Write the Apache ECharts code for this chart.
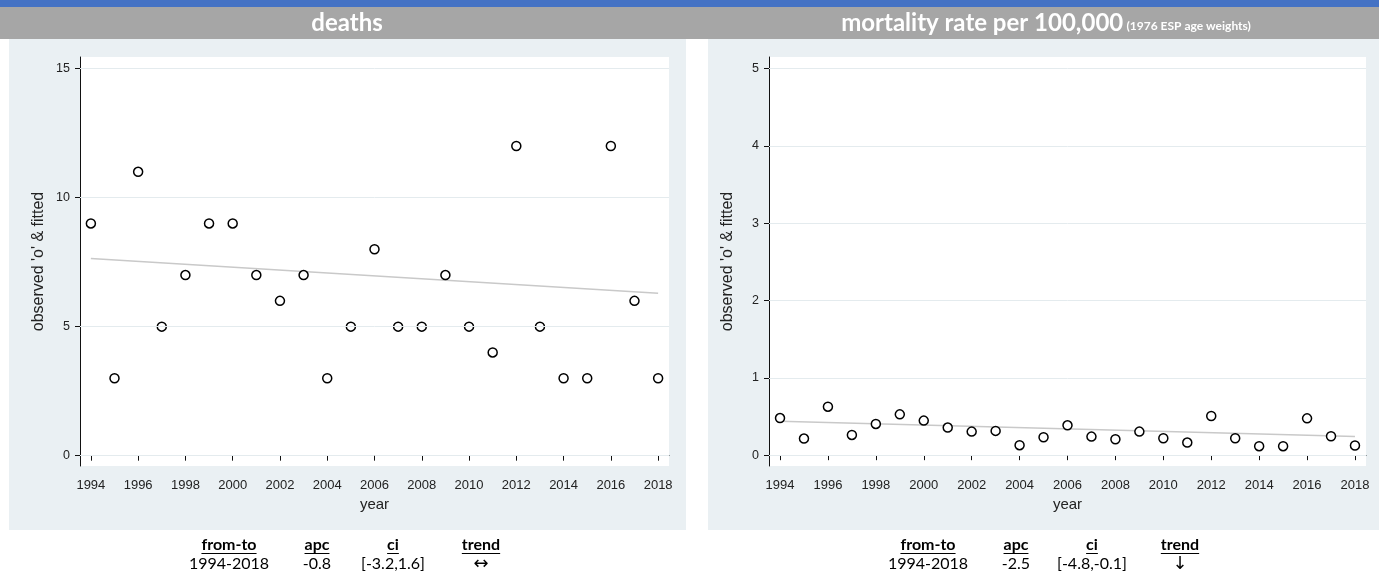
<!DOCTYPE html>
<html>
<head>
<meta charset="utf-8">
<script src="https://cdn.jsdelivr.net/npm/echarts@6/dist/echarts.min.js"></script>
<style>
  html, body { margin: 0; padding: 0; background: #fff; }
  #chart { width: 1379px; height: 574px; }
</style>
</head>
<body>
<div id="chart"></div>
<script>
  var years = [1994, 1995, 1996, 1997, 1998, 1999, 2000, 2001, 2002, 2003, 2004, 2005, 2006,
    2007, 2008, 2009, 2010, 2011, 2012, 2013, 2014, 2015, 2016, 2017, 2018]
  var deaths = [9, 3, 11, 5, 7, 9, 9, 7, 6, 7, 3, 5, 8, 5, 5, 7, 5, 4, 12, 5, 3, 3, 12, 6, 3]
  var rates = [0.48, 0.215, 0.627, 0.262, 0.404, 0.528, 0.447, 0.357, 0.305, 0.314, 0.129, 0.232, 0.386,
    0.24, 0.206, 0.305, 0.219, 0.163, 0.507, 0.219, 0.116, 0.116, 0.476, 0.245, 0.125]
  // fitted trend, end points only
  var fitYears = [1994, 2018]
  var deathsFit = [7.64, 6.29]
  var ratesFit = [0.438, 0.24]
  var yearTicks = [1994, 1996, 1998, 2000, 2002, 2004, 2006, 2008, 2010, 2012, 2014, 2016, 2018]
  var deathsTicks = [0, 5, 10, 15]
  var ratesTicks = [0, 1, 2, 3, 4, 5]
  var deathsTitle = 'deaths'
  var ratesTitle = 'mortality rate per 100,000'
  var ratesNote = '(1976 ESP age weights)'
  var tableHead = ['from-to', 'apc', 'ci', 'trend']
  var deathsRow = ['1994-2018', '-0.8', '[-3.2,1.6]', '↔']
  var ratesRow = ['1994-2018', '-2.5', '[-4.8,-0.1]', '↓']

  var panelBg = '#eaf0f3'
  var gridColor = '#e4ebee'
  var tableFont = 'Lato, "Open Sans", sans-serif'
  var axisFont = 'Liberation Sans'

  function pairs (xs, ys) {
    return xs.map(function (x, i) { return [x, ys[i]] })
  }

  function textWidth (txt, font) {
    var ctx = document.createElement('canvas').getContext('2d')
    ctx.font = font
    return ctx.measureText(txt).width
  }

  var myChart = echarts.init(document.getElementById('chart'))

  var grids = [
    {left: 80, top: 57, width: 589, height: 409, show: true, backgroundColor: '#fff', borderWidth: 0},
    {left: 769, top: 57, width: 597, height: 409, show: true, backgroundColor: '#fff', borderWidth: 0}
  ]

  function xAxisFor (idx) {
    return {
      gridIndex: idx,
      type: 'value',
      min: 1993.54,
      max: 2018.46,
      name: 'year',
      nameLocation: 'middle',
      nameGap: 29,
      nameTextStyle: {color: '#222', fontSize: 15, fontFamily: axisFont},
      axisLine: {show: true, lineStyle: {color: '#111', width: 1}},
      axisTick: {show: true, length: 5, customValues: yearTicks, lineStyle: {color: '#111'}},
      axisLabel: {customValues: yearTicks, color: '#222', fontSize: 13, margin: 13, fontFamily: axisFont,
        formatter: function (v) { return String(v) }},
      splitLine: {show: false}
    }
  }

  function yAxisFor (idx, ticks, min, max) {
    return {
      gridIndex: idx,
      type: 'value',
      min: min,
      max: max,
      name: "observed 'o' & fitted",
      nameLocation: 'middle',
      nameGap: 33,
      nameTextStyle: {color: '#222', fontSize: 16, fontFamily: axisFont},
      axisLine: {show: true, lineStyle: {color: '#111', width: 1}},
      axisTick: {show: true, length: 5, customValues: ticks, lineStyle: {color: '#111'}},
      axisLabel: {customValues: ticks, color: '#222', fontSize: 12.5, margin: 10, fontFamily: axisFont},
      splitLine: {show: false}
    }
  }

  function seriesFor (idx, obs, fitVals, ticks) {
    return [{
      type: 'line',
      xAxisIndex: idx,
      yAxisIndex: idx,
      data: pairs(fitYears, fitVals),
      symbol: 'none',
      z: 1,
      lineStyle: {color: '#c9c9c9', width: 1.5},
      markLine: {
        silent: true,
        symbol: 'none',
        label: {show: false},
        lineStyle: {color: gridColor, width: 1, type: 'solid'},
        data: ticks.map(function (t) { return {yAxis: t} })
      }
    }, {
      type: 'scatter',
      xAxisIndex: idx,
      yAxisIndex: idx,
      data: pairs(years, obs),
      symbol: 'circle',
      symbolSize: 9,
      z: 3,
      itemStyle: {color: '#fff', borderColor: '#000', borderWidth: 1.5, opacity: 1}
    }]
  }

  // summary table under each panel
  function tableFor (panelLeft, row) {
    var cols = [220, 308, 384, 472]
    var out = []
    tableHead.forEach(function (h, i) {
      var cx = panelLeft + cols[i]
      var w = textWidth(h, 'bold 16px ' + tableFont)
      out.push({
        type: 'text', x: cx, y: 545, silent: true,
        style: {text: h, font: 'bold 16px ' + tableFont, fill: '#000', align: 'center', verticalAlign: 'middle'}
      })
      out.push({
        type: 'line', silent: true,
        shape: {x1: cx - w / 2, y1: 553.5, x2: cx + w / 2, y2: 553.5},
        style: {stroke: '#000', lineWidth: 1}
      })
      // last column is an arrow glyph, drawn a bit larger
      var f = i === 3 ? '18px "DejaVu Sans", sans-serif' : '16px ' + tableFont
      out.push({
        type: 'text', x: cx, y: 564, silent: true,
        style: {text: row[i], font: f, fill: '#000', align: 'center', verticalAlign: 'middle'}
      })
    })
    return out
  }

  var graphics = [
    {type: 'rect', z: -10, silent: true, shape: {x: 0, y: 0, width: 1379, height: 7}, style: {fill: '#4472c4'}},
    {type: 'rect', z: -10, silent: true, shape: {x: 0, y: 7, width: 1379, height: 32}, style: {fill: '#a6a6a6'}},
    {type: 'rect', z: -10, silent: true, shape: {x: 9, y: 39, width: 677, height: 491}, style: {fill: panelBg}},
    {type: 'rect', z: -10, silent: true, shape: {x: 708, y: 39, width: 671, height: 491}, style: {fill: panelBg}},
    {
      type: 'text', z: 10, silent: true, x: 347, y: 23,
      style: {text: deathsTitle, font: 'bold 24px ' + tableFont, fill: '#fff', align: 'center', verticalAlign: 'middle'}
    },
    {
      type: 'text', z: 10, silent: true, x: 1046, y: 23,
      style: {
        text: '{a|' + ratesTitle + '} {b|' + ratesNote + '}',
        align: 'center', verticalAlign: 'middle',
        rich: {
          a: {font: 'bold 24px ' + tableFont, fill: '#fff', color: '#fff'},
          b: {font: 'bold 12px ' + tableFont, fill: '#fff', color: '#fff', padding: [7, 0, 0, 0]}
        }
      }
    }
  ].concat(tableFor(9, deathsRow), tableFor(708, ratesRow))

  var option = {
    animation: false,
    backgroundColor: '#fff',
    grid: grids,
    xAxis: [xAxisFor(0), xAxisFor(1)],
    yAxis: [yAxisFor(0, deathsTicks, -0.4, 15.45), yAxisFor(1, ratesTicks, -0.14, 5.15)],
    series: seriesFor(0, deaths, deathsFit, deathsTicks).concat(seriesFor(1, rates, ratesFit, ratesTicks)),
    graphic: graphics
  }
  myChart.setOption(option)
  window.onresize = function () {
    myChart.resize()
  }
</script>
</body>
</html>
